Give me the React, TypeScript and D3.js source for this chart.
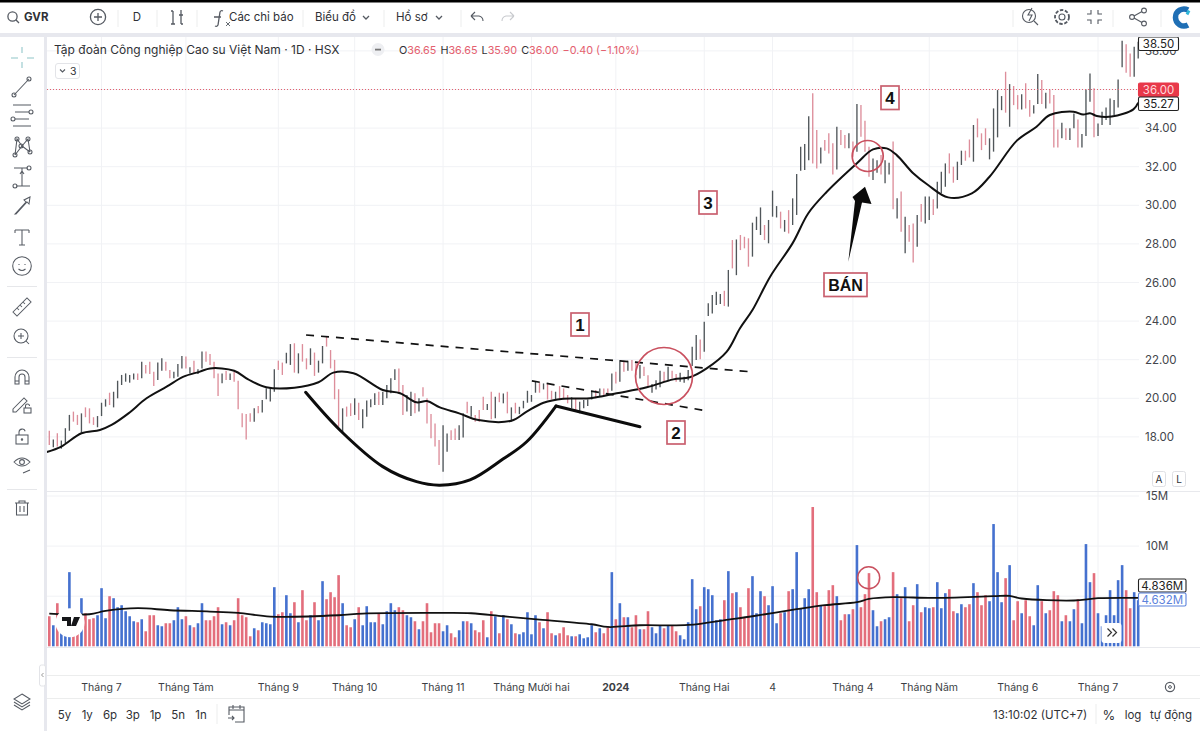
import React from "react";
import * as d3 from "d3";

const highs = [
18.32,17.87,18.19,17.81,18.45,19.14,19.31,19.14,19.22,19.53,
19.48,19.02,19.08,19.77,19.95,20.29,20.34,20.91,21.21,21.29,
21.21,21.29,21.29,21.9,21.73,21.9,21.38,21.85,22.07,21.9,
21.47,21.38,21.78,22.19,22.16,21.61,21.95,21.5,22.42,22.42,
22.3,21.9,21.29,21.29,21.43,21.29,21.38,20.91,19.22,19.19,
19.22,19.48,19.6,19.91,20.52,20.57,21.5,21.95,21.85,22.36,
22.81,22.85,22.33,22.81,22.07,22.59,22.37,21.95,22.71,23.23,
22.5,21.99,20.47,19.48,19.57,19.74,20.0,19.77,19.43,19.88,
19.95,20.26,20.34,20.34,20.69,21.04,21.5,21.55,20.69,20.17,
20.34,20.26,20.0,20.57,20.0,19.19,18.7,17.84,18.6,18.18,
18.35,18.44,18.61,19.22,19.82,19.6,19.13,19.39,20.08,19.7,
20.34,20.08,20.29,20.25,20.34,19.53,19.77,19.56,19.87,20.39,
20.17,20.86,20.81,20.77,20.77,20.39,20.34,20.63,20.51,20.17,
20.05,20.0,19.82,19.91,19.94,20.39,20.43,20.51,20.51,20.51,
21.29,21.38,21.98,21.95,21.95,21.98,21.9,21.72,21.64,21.2,
20.74,20.94,21.43,21.38,21.64,21.43,21.26,21.33,21.12,21.46,
22.67,23.28,23.05,23.97,24.92,25.35,25.52,25.4,25.57,26.65,
28.2,28.23,28.46,28.37,28.29,29.1,29.41,29.89,28.98,29.24,
30.76,29.96,29.67,29.24,29.75,30.36,31.62,33.04,33.17,34.62,
35.8,33.9,33.0,33.38,33.73,33.21,34.07,33.9,33.64,33.73,
33.3,35.25,35.2,34.38,33.04,32.43,32.34,32.6,32.34,32.2,
33.3,30.36,30.71,29.41,28.98,29.06,29.5,30.07,30.45,30.45,
30.31,31.22,31.74,32.17,32.69,32.0,32.26,32.83,32.83,33.41,
34.16,34.5,33.73,33.99,33.47,35.02,35.97,35.66,36.92,36.28,
36.18,35.71,35.76,36.32,35.45,35.19,36.8,36.49,35.83,36.0,
35.71,33.93,34.28,33.99,33.99,34.76,34.45,33.69,36.0,36.83,
36.06,34.24,34.85,35.07,35.54,35.45,36.52,38.53,38.35,37.87,
38.22,38.48];

const lows = [
17.58,17.46,17.5,17.39,17.67,18.32,18.79,18.62,18.22,19.02,
18.7,18.62,18.5,19.08,19.57,19.65,19.53,20.0,20.69,20.86,
20.81,20.98,20.95,21.04,21.29,21.26,20.64,20.95,21.43,21.43,
21.04,21.04,21.12,21.55,21.55,21.29,21.29,21.26,21.55,21.9,
21.73,21.04,20.12,20.78,20.95,20.95,20.86,19.43,18.5,17.87,
18.79,18.79,19.22,19.26,19.95,19.83,20.34,21.47,21.21,21.81,
21.73,21.33,21.29,21.9,21.5,21.73,21.16,21.33,21.81,22.68,
21.55,19.95,18.53,18.22,19.05,19.08,19.14,18.88,18.45,19.05,
19.53,19.65,19.65,19.65,20.0,20.26,20.95,20.26,19.14,19.31,
19.08,19.22,19.31,20.09,18.7,17.93,17.5,16.55,16.2,17.23,
17.84,17.84,17.84,17.97,19.22,19.05,18.79,18.79,19.39,19.39,
18.91,18.96,19.8,19.74,19.22,18.79,19.22,19.18,19.48,19.77,
19.82,20.29,20.29,20.46,19.94,19.94,19.91,19.91,19.94,19.74,
19.48,19.39,19.22,19.48,19.6,19.94,20.0,20.08,20.12,20.17,
20.39,20.77,20.86,21.38,21.43,21.43,21.2,21.03,21.15,20.57,
20.29,20.46,20.57,20.86,20.91,21.03,20.86,20.86,20.81,20.94,
21.67,21.98,22.02,22.41,24.26,24.4,24.83,24.88,24.78,24.75,
26.73,26.38,27.68,27.77,26.82,27.34,28.72,28.46,28.2,28.03,
29.41,29.37,28.8,28.63,28.54,28.98,29.5,31.79,31.83,32.34,
32.17,31.91,32.17,32.83,32.69,31.6,31.86,33.12,32.95,32.95,
32.52,32.78,33.55,32.78,31.48,31.31,31.69,31.6,31.14,31.6,
29.79,29.32,28.63,27.51,28.11,27.03,27.85,29.15,29.06,29.24,
29.5,29.84,30.62,30.96,31.65,31.17,31.31,32.09,32.31,32.48,
32.26,33.52,32.86,33.12,32.38,32.78,33.52,34.93,34.8,34.07,
35.19,34.97,34.97,35.02,34.59,34.76,35.25,35.25,35.02,35.28,
33.0,33.0,33.47,33.38,33.38,33.99,33.0,33.0,33.59,35.37,
33.52,33.59,34.16,34.42,34.16,34.68,35.07,37.15,36.87,36.66,
36.66,37.61];

const volumes = [
3.0,2.1,4.3,2.2,2.0,7.4,1.9,2.0,4.8,3.3,
2.7,2.8,3.1,5.8,2.8,5.0,4.8,3.9,4.1,3.5,
3.0,2.5,2.4,2.7,1.5,3.1,3.1,2.1,2.0,2.3,
2.3,2.6,3.9,2.7,3.0,2.1,1.9,2.3,4.3,2.6,
2.6,3.0,3.9,2.2,2.4,2.1,2.6,4.8,3.1,2.9,
1.0,1.8,1.6,2.4,2.3,2.2,5.9,3.2,3.4,5.1,
3.3,4.4,2.4,5.6,2.6,3.1,4.4,2.6,6.5,4.7,
5.4,4.9,7.1,4.3,2.1,1.9,2.7,3.9,2.1,4.0,
2.4,2.4,3.3,2.2,3.5,4.3,3.6,3.9,3.6,3.1,
2.9,2.5,1.7,2.5,4.3,1.4,2.3,2.3,1.5,2.1,
1.3,0.9,1.6,2.5,2.5,2.3,1.6,1.4,2.6,0.9,
3.5,3.0,1.3,3.1,2.7,2.2,1.3,1.2,1.4,3.4,
1.2,3.1,2.4,1.8,3.4,1.3,1.1,1.3,1.9,1.1,
1.0,1.0,1.2,0.8,0.9,2.1,1.4,1.8,1.3,1.9,
7.4,2.7,4.3,2.9,2.9,1.9,3.1,1.7,1.7,3.5,
1.9,1.3,2.1,1.8,2.1,2.1,1.5,1.1,0.7,2.4,
6.7,3.7,4.0,5.9,5.7,5.1,2.6,2.7,4.6,7.5,
5.3,5.4,3.9,2.9,5.8,7.0,3.3,5.5,5.0,4.1,
6.0,2.3,3.3,3.4,5.5,5.7,9.4,3.8,4.8,5.7,
13.9,5.4,4.1,4.1,5.6,6.1,5.0,2.6,3.2,3.2,
3.7,10.1,3.9,5.2,7.3,3.6,2.0,2.5,2.7,2.9,
7.4,5.2,4.8,5.9,2.5,4.1,6.2,3.4,3.9,3.8,
3.9,6.4,3.8,5.3,5.7,3.5,3.3,4.2,3.9,4.2,
6.3,5.4,4.1,5.1,4.5,12.2,7.4,4.4,6.8,8.1,
2.6,4.5,3.3,4.6,3.0,2.1,6.1,4.5,3.3,3.6,
5.5,5.1,2.5,3.1,2.5,3.7,4.7,2.3,10.2,6.4,
7.3,3.3,2.0,3.1,5.6,3.1,6.6,8.1,5.6,3.8,
5.4,4.6];

const directions = [
"duduuuddud","dduuuduuuu","uududdduud","duuududuud","dddududddd",
"duduuuuddu","ududduduud","dddudduduu","uuduuuuddu","ududdddduu",
"dduududddu","dudududuuu","uududduddd","uduuuududd","udududdudd",
"uuududduuu","uuduuuuudu","duddduuudu","uududuuuuu","dduddduddu",
"duddduuduu","dududduduu","duuudduudd","uddduuuudu","ddudduudud",
"dduduuduuu","duuuuuuudduu"].join("");

const priceMaIndex = [-0.6,3,8,12.6,15.5,19.7,24.2,29.2,33.4,37.5,40,46,49.5,54,61,67,70.7,75.7,83,87.3,91.4,94,97.2,102,106.8,115,118.8,123,127.9,134.6,141.2,148.7,155.3,159.4,163.6,168.6,171.9,175,179.4,185,188.9,193.5,201,205,208.4,210.9,215,218.7,223.7,229.6,234,240.8,245.7,249,254.9,257.3,259,260.7,264.4,269.8,271];
const priceMaValue = [17.22,17.5,18.19,18.36,18.62,19.22,20.0,20.6,21.12,21.38,21.55,21.43,20.98,20.57,20.55,20.83,21.33,21.3,20.43,20.26,19.79,19.86,19.53,19.22,18.87,18.84,19.31,19.77,19.98,20.0,20.26,20.57,20.98,21.09,21.55,22.42,23.63,24.57,26.3,28.04,29.59,30.7,32.18,32.9,32.95,32.6,31.66,31.05,30.41,30.62,31.48,33.35,34.07,34.68,34.85,34.7,34.77,34.63,34.6,34.97,35.32];

const volMaIndex = [0,10,14,22,30,40,47,55,72,78,97,105,113,122,135,139,147,159,169,175,186,193,201,204,210,220,235,239,242,255,261,271];
const volMaValue = [3.27,3.2,3.53,3.8,3.6,3.47,3.33,2.97,3.1,3.27,3.33,3.3,3.0,2.67,2.2,1.93,2.1,2.13,2.67,3.0,3.7,4.1,4.4,4.73,4.9,4.83,5.0,5.03,4.77,4.57,4.8,4.83];

const priceTicks = [18,20,22,24,26,28,30,32,34,36,38];
const volumeTicks = [5,10,15];
const timeTickIndex = [13,34,57,76,98,120,141,163,180,200,219,241,261];
const timeTickLabels = ["Tháng 7","Tháng Tám","Tháng 9","Tháng 10","Tháng 11","Tháng Mười hai","2024","Tháng Hai","4","Tháng 4","Tháng Năm","Tháng 6","Tháng 7"];
const rangeButtons = ["5y","1y","6p","3p","1p","5n","1n"];

const resistanceLine = [[63.9,23.28],[175.4,21.36]];
const supportLine = [[120.1,20.9],[162.5,19.39]];
const cupCurve = [[63.8,20.31],[72.3,18.36],[83,16.46],[91.4,15.68],[97.2,15.5],[104.7,15.77],[112.9,16.85],[118.8,17.75],[126.1,19.6]];
const cupHandle = [[126.1,19.6],[147,18.53]];

const FONT = "Inter, 'Noto Sans', sans-serif";
const INK = "#2f3136";
const ICON = "#555a62";
const RED = "#e4606f";
const BOXRED = "#c9606f";

const x = d3.scaleLinear().domain([0, 271]).range([49.3, 1138.2]);
const y = d3.scaleLinear().domain([18, 36]).range([436.9, 89.5]);
const yVol = d3.scaleLinear().domain([0, 15]).range([646.3, 496]);

const maPath = d3.line<number>().x((_, i) => x(priceMaIndex[i])).y(d => y(d)).curve(d3.curveCatmullRom.alpha(0.5));
const volMaPath = d3.line<number>().x((_, i) => x(volMaIndex[i])).y(d => yVol(d)).curve(d3.curveCatmullRom.alpha(0.5));
const annLine = d3.line<number[]>().x(d => x(d[0])).y(d => y(d[1]));
const annCurve = d3.line<number[]>().x(d => x(d[0])).y(d => y(d[1])).curve(d3.curveCatmullRom.alpha(0.5));

function T(p: any) {
  const { children, ...r } = p;
  return <text fontFamily={FONT} fontSize={11.5} fill={INK} {...r}>{children}</text>;
}

function NumBox({ x0, y0, w, h, label, size = 17 }: any) {
  return (
    <g>
      <rect x={x0} y={y0} width={w} height={h} fill="#fff" stroke={BOXRED} strokeWidth={1.7} />
      <text x={x0 + w / 2} y={y0 + h / 2 + size * 0.36} textAnchor="middle" fontFamily="'Liberation Sans', Arial, sans-serif" fontWeight={700} fontSize={size} fill="#111">{label}</text>
    </g>
  );
}

function PriceTag({ y0, h, label, stroke, fill, color, w = 40 }: any) {
  return (
    <g>
      <rect x={1138.5} y={y0} width={w} height={h} rx={1.5} fill={fill} stroke={stroke} strokeWidth={1.1} />
      <T x={1138.5 + w / 2} y={y0 + h / 2 + 4} textAnchor="middle" fontSize={11.5} fill={color}>{label}</T>
    </g>
  );
}

function Sep({ x0, y1 = 10, y2 = 27 }: any) {
  return <line x1={x0} x2={x0} y1={y1} y2={y2} stroke="#eceded" strokeWidth={1} />;
}

function TopBar() {
  return (
    <g>
      <rect x={0} y={0} width={1200} height={2.5} fill="#000" />
      <g fill="none" stroke={ICON} strokeWidth={1.3}>
        <circle cx={12.5} cy={16.5} r={4.6} />
        <line x1={15.8} y1={19.8} x2={19} y2={23} />
        <circle cx={98} cy={17} r={7.6} />
        <path d="M98 13v8M94 17h8" />
        <path d="M173 11v13M171 24h4M173 11h-2M181 10v14M179 15h4M181 24h2" />
        <path d="M223 11q-2-1-3 1l-2 13q-1 2-3 1M214 17h7" />
        <path d="M226 22l4 4M230 22l-4 4" strokeWidth={0.9} />
        <path d="M363 16l3 3 3-3M436 16l3 3 3-3" />
        <path d="M471 16l4-4M471 16l4 4M471 16h8q4 1 4 5" strokeWidth={1.1} />
        <path d="M514 16l-4-4M514 16l-4 4M514 16h-8q-4 1-4 5" stroke="#c8cace" strokeWidth={1.1} />
      </g>
      <T x={24} y={21} fontWeight={700} fontSize={11.5}>GVR</T>
      <T x={137} y={21} textAnchor="middle" fontSize={11.5}>D</T>
      <T x={229} y={21} fontSize={11.5}>Các chỉ báo</T>
      <T x={315} y={21} fontSize={11.5}>Biểu đồ</T>
      <T x={396} y={21} fontSize={11.5}>Hồ sơ</T>
      {[118, 157, 197, 303, 384, 461, 1013, 1113, 1161].map(v => <Sep key={v} x0={v} />)}
      <g fill="none" stroke={ICON} strokeWidth={1.1}>
        <circle cx={1029} cy={16} r={6.5} />
        <line x1={1034} y1={21} x2={1038} y2={25} />
        <path d="M1032 8l-4 7h4l-3 6" />
        <circle cx={1062} cy={17} r={3} />
        <circle cx={1062} cy={17} r={7} strokeDasharray="3.5 1.6" strokeWidth={1.8} />
        <path d="M1091 10v4h-4M1098 10v4h4M1091 24v-4h-4M1098 24v-4h4" />
        <circle cx={1144} cy={10.5} r={2.4} />
        <circle cx={1144} cy={23.5} r={2.4} />
        <circle cx={1132} cy={17} r={2.4} />
        <path d="M1134 16l8-4.5M1134 18l8 4.5" />
      </g>
      <path d="M1188 10a8.5 8.5 0 1 0 0 15" fill="none" stroke="#1f6fb5" strokeWidth={5.5} />
      <path d="M1189 10.5l-2 4" fill="none" stroke="#2fb6d8" strokeWidth={3} />
    </g>
  );
}

function LeftBar() {
  return (
    <g fill="none" stroke={ICON} strokeWidth={1.05}>
      <path d="M22 47v6M22 62v6M11 58h7M27 58h7" stroke="#8fc5c8" />
      <path d="M14 95L29 79" /><circle cx={14} cy={95} r={2} /><circle cx={29} cy={79} r={2} />
      <path d="M13 105h18M15 112h14M15 119h14M13 126h18" /><circle cx={31} cy={112} r={2} /><circle cx={13} cy={119} r={2} />
      <path d="M15 155L17 139L22 146L28 139L30 152M15 155L22 146L30 152" /><circle cx={15} cy={155} r={2} /><circle cx={17} cy={139} r={2} /><circle cx={28} cy={139} r={2} /><circle cx={30} cy={152} r={2} /><circle cx={21} cy={146} r={2} />
      <path d="M14 168h14M16 186h14M22 168v18M22 171l-2 3M22 171l2 3" /><circle cx={29} cy={168} r={2} /><circle cx={15} cy={186} r={2} />
      <path d="M15 214l11-12-2-2 6-3-1 7-2-2-11 12z" />
      <path d="M15 230h14M22 230v15M15 230v3M29 230v3M19 245h6" />
      <circle cx={22} cy={266} r={9.3} /><path d="M19 264v1M25 264v1M18.5 269q3.5 3 7 0" />
      <line x1={7} y1={286.5} x2={37} y2={286.5} stroke="#e6e7ea" />
      <path d="M13 312L27 298l4 4-14 14zM17 308l2 2M20 305l2 2M23 302l2 2" />
      <circle cx={21} cy={336} r={7} /><path d="M26 341l3 3M21 333v6M18 336h6" />
      <line x1={7} y1={357.5} x2={37} y2={357.5} stroke="#e6e7ea" />
      <path d="M15 384v-7a7 7 0 0 1 14 0v7h-4v-7a3 3 0 0 0-6 0v7zM15 381h4M25 381h4" />
      <path d="M13 409l11-11 3 3-11 11h-3z" /><rect x={24} y={408} width={7} height={5} /><path d="M25.5 408v-2a2 2 0 0 1 4 0" />
      <rect x={16} y={435} width={12} height={9} /><path d="M19 435v-3a3.2 3.2 0 0 1 6.2-.8" /><circle cx={22} cy={439.5} r={0.7} />
      <path d="M14 462q8-8 16 0q-8 8-16 0z" /><circle cx={22} cy={462} r={2.4} /><path d="M23 473l7-3" />
      <line x1={7} y1={489.5} x2={37} y2={489.5} stroke="#e6e7ea" />
      <path d="M15 503h14M19 503v-2h6v2M16.5 503v12h11v-12M20 506v6M24 506v6" />
      <path d="M22 694l8 5-8 5-8-5zM14 702l8 5 8-5M14 705l8 5 8-5" />
    </g>
  );
}

function BottomBar() {
  return (
    <g>
      <line x1={47} x2={1200} y1={647.5} y2={647.5} stroke="#e8e9ed" />
      <line x1={47} x2={1200} y1={675.5} y2={675.5} stroke="#eceded" />
      <line x1={47} x2={1200} y1={698.5} y2={698.5} stroke="#eceded" />
      {timeTickLabels.map((t, i) => (
        <T key={i} x={x(timeTickIndex[i])} y={691} textAnchor="middle" fontSize={10.5} fill="#3b3e44" fontWeight={t === "2024" ? 700 : 400}>{t}</T>
      ))}
      <circle cx={1170} cy={687} r={4.6} fill="none" stroke={ICON} strokeWidth={1.2} />
      <circle cx={1170} cy={687} r={1.4} fill="none" stroke={ICON} />
      {rangeButtons.map((t, i) => <T key={t} x={d3.scaleLinear().domain([0, 6]).range([64.5, 201])(i)} y={719} textAnchor="middle" fontSize={11.5}>{t}</T>)}
      <Sep x0={217} y1={704} y2={724} />
      <g fill="none" stroke={ICON} strokeWidth={1.1}>
        <path d="M229 715v-8h15v15h-9M229 710h15M233 705v4M240 705v4M228 718h6M232 716l2 2-2 2" />
      </g>
      <T x={993} y={719} fontSize={11.5}>13:10:02 (UTC+7)</T>
      <Sep x0={1096} y1={704} y2={724} />
      <T x={1109} y={720} textAnchor="middle" fontSize={13}>%</T>
      <T x={1133} y={719} textAnchor="middle" fontSize={11.5}>log</T>
      <T x={1171} y={719} textAnchor="middle" fontSize={11.5}>tự động</T>
      <rect x={39.5} y={665} width={6} height={21} rx={2} fill="#fff" stroke="#e3e4e8" />
      <path d="M43.5 673l-2 2 2 2" fill="none" stroke="#999" />
    </g>
  );
}

function Legend() {
  return (
    <g>
      <T x={54} y={54} fontSize={12}>Tập đoàn Công nghiệp Cao su Việt Nam · 1D · HSX</T>
      <circle cx={378} cy={49.5} r={6.5} fill="#eeeff2" />
      <rect x={375} y={48.7} width={6} height={1.8} fill="#777" />
      <text x={399} y={54} fontFamily={FONT} fontSize={10.8} fill={INK}>
        O<tspan fill={RED}>36.65</tspan><tspan dx={4}>H</tspan><tspan fill={RED}>36.65</tspan><tspan dx={4}>L</tspan><tspan fill={RED}>35.90</tspan><tspan dx={4}>C</tspan><tspan fill={RED}>36.00</tspan><tspan dx={4} fill={RED}>−0.40 (−1.10%)</tspan>
      </text>
      <rect x={55.5} y={63.5} width={24} height={15} rx={2.5} fill="#fff" stroke="#e3e4e8" />
      <path d="M60 69.5l2.5 2.5 2.5-2.5" fill="none" stroke={ICON} strokeWidth={1.1} />
      <T x={70} y={75} fontSize={10.5}>3</T>
    </g>
  );
}

function Annotations() {
  return (
    <g>
      <path d={annLine(resistanceLine) as string} fill="none" stroke="#111" strokeWidth={1.7} strokeDasharray="8 7" />
      <path d={annLine(supportLine) as string} fill="none" stroke="#111" strokeWidth={1.7} strokeDasharray="8 7" />
      <path d={annCurve(cupCurve) as string} fill="none" stroke="#0c0c0c" strokeWidth={3} strokeLinecap="round" />
      <path d={annLine(cupHandle) as string} fill="none" stroke="#0c0c0c" strokeWidth={3} strokeLinecap="round" />
      <circle cx={664} cy={376} r={28.5} fill="none" stroke="#c9505f" strokeWidth={1.7} />
      <circle cx={867.7} cy={156} r={15.5} fill="none" stroke="#c9505f" strokeWidth={1.7} />
      <circle cx={868.7} cy={577.7} r={11} fill="none" stroke="#c9505f" strokeWidth={1.5} />
      <path d="M865 186.7L871.5 204L862 202.500L848.300 261.700L855 201L852.500 197z" fill="#0a0a0a" />
      <NumBox x0={571} y0={313} w={18} h={23} label="1" />
      <NumBox x0={667} y0={421} w={18} h={23} label="2" />
      <NumBox x0={699} y0={191} w={18} h={23} label="3" />
      <NumBox x0={881} y0={86} w={18} h={23.500} label="4" />
      <NumBox x0={824} y0={273} w={43} h={23.500} label="BÁN" size={16} />
    </g>
  );
}

export default function App() {
  const n = highs.length;
  const idx = d3.range(n);
  return (
    <svg width={1200} height={731} viewBox="0 0 1200 731" style={{ position: "fixed", left: 0, top: 0, background: "#fff", display: "block" }}>
      <rect width={1200} height={731} fill="#fff" />
      {/* grid */}
      <g stroke="#f1f2f5" strokeWidth={1}>
        {timeTickIndex.map(t => <line key={t} x1={x(t)} x2={x(t)} y1={37} y2={647} />)}
        {priceTicks.map(t => <line key={t} x1={47} x2={1139} y1={y(t)} y2={y(t)} />)}
        {volumeTicks.map(t => <line key={t} x1={47} x2={1139} y1={yVol(t)} y2={yVol(t)} />)}
      </g>
      {/* volume */}
      <g>
        {idx.map(i => (
          <rect key={i} x={x(i) - 1.3} width={2.6} y={yVol(volumes[i])} height={yVol(0) - yVol(volumes[i])} fill={directions[i] === "u" ? "#4571cf" : "#e36e7c"} />
        ))}
      </g>
      <path d={volMaPath(volMaValue) as string} fill="none" stroke="#111" strokeWidth={1.8} />
      {/* price bars */}
      <g>
        {idx.map(i => (
          <line key={i} x1={x(i)} x2={x(i)} y1={y(highs[i])} y2={y(lows[i])} stroke={directions[i] === "u" ? "#50565a" : "#dd8e9b"} strokeWidth={1.35} />
        ))}
      </g>
      <line x1={47} x2={1139} y1={y(36)} y2={y(36)} stroke="#e4606f" strokeWidth={1} strokeDasharray="1 2" />
      <path d={maPath(priceMaValue) as string} fill="none" stroke="#111" strokeWidth={2} />
      <Annotations />
      {/* chart chrome overlays */}
      <circle cx={70} cy={622.7} r={14.5} fill="#fff" />
      <path d="M62 617h9v9h-4v-5h-5zM74 617h6l-4 9h-5z" fill="#16171a" />
      <rect x={1101.5} y={623} width={20} height={20} rx={3} fill="#fff" />
      <path d="M1107.5 628.500l4 4-4 4M1112.500 628.500l4 4-4 4" fill="none" stroke="#333" strokeWidth={1.2} />
      {/* axes */}
      <line x1={47} x2={1200} y1={491.5} y2={491.5} stroke="#e8e9ed" />
      {priceTicks.map(t => <T key={t} x={1145} y={y(t) + 4} fontSize={11.5} fill="#42454b">{t.toFixed(2)}</T>)}
      {volumeTicks.filter(t => t > 5).map(t => <T key={t} x={1146} y={yVol(t) + 4} fontSize={11.5} fill="#42454b">{t}M</T>)}
      <PriceTag y0={37} h={13.5} label="38.50" stroke="#222" fill="#fff" color="#222" />
      <PriceTag y0={83} h={13.5} label="36.00" stroke="#e8394a" fill="#e8394a" color="#ffd9dd" />
      <PriceTag y0={97} h={13.5} label="35.27" stroke="#222" fill="#fff" color="#222" />
      <PriceTag y0={579} h={13} label="4.836M" stroke="#222" fill="#fff" color="#222" w={47.500} />
      <PriceTag y0={593} h={13} label="4.632M" stroke="#5b82dc" fill="#fff" color="#5b82dc" w={47.500} />
      <g>
        <rect x={1152.5} y={471.5} width={13} height={15} rx={2} fill="#fff" stroke="#dfe0e4" />
        <T x={1159} y={483} textAnchor="middle" fontSize={10}>A</T>
        <rect x={1172.5} y={471.5} width={13} height={15} rx={2} fill="#fff" stroke="#dfe0e4" />
        <T x={1179} y={483} textAnchor="middle" fontSize={10}>L</T>
      </g>
      <Legend />
      {/* panel separators */}
      <rect x={0} y={33} width={1200} height={4} fill="#e7e8ee" />
      <rect x={44} y={33} width={3} height={698} fill="#e7e8ee" />
      <TopBar />
      <LeftBar />
      <BottomBar />
    </svg>
  );
}
